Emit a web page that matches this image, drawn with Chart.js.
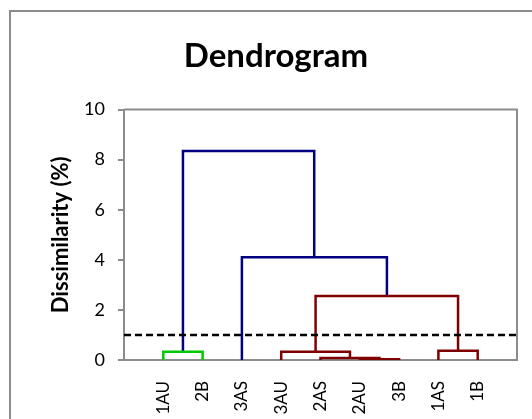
<!DOCTYPE html>
<html lang="en">
  <head>
    <meta charset="UTF-8" />
    <title>Dendrogram</title>
    <style>
      body {
          margin: 0;
          background-color: white;
          overflow: hidden;
      }
      #frame {
          position: absolute;
          left: 9px;
          top: 10px;
          width: 600px;
          height: 500px;
          border: 2px solid #8c8c8c;
      }
      #wrap {
          position: absolute;
          left: 0;
          top: 0;
          width: 532px;
          height: 419px;
      }
    </style>
    <script src="https://cdn.jsdelivr.net/npm/chart.js@4.4.0/dist/chart.umd.min.js"></script>
  </head>
  <body>
    <div id="frame"></div>
    <div id="wrap"><canvas id="dendroChart"></canvas></div>
    <script>
      // leaves in plot order (x = 1..9)
      var leafNames = ["1AU", "2B", "3AS", "3AU", "2AS", "2AU", "3B", "1AS", "1B"];

      // one entry per merge: left/right x, bottoms of the two legs, merge height (%)
      var linkLeftX = [1, 6, 5, 4, 8, 4.875, 3, 1.5];
      var linkRightX = [2, 7, 6.5, 5.75, 9, 8.5, 6.69, 4.84];
      var linkLeftBase = [0, 0, 0, 0, 0, 0.33, 0, 0.33];
      var linkRightBase = [0, 0, 0.03, 0.08, 0, 0.37, 2.56, 4.1];
      var linkHeight = [0.33, 0.03, 0.08, 0.33, 0.37, 2.56, 4.1, 8.35];
      var linkColors = ["#00c800", "#7f0000", "#7f0000", "#7f0000", "#7f0000", "#7f0000", "#000080", "#000080"];

      // truncation line
      var cutLevel = 1;

      var yTicks = [0, 2, 4, 6, 8, 10];

      var datasets = [
        {
          label: "cut",
          data: [{ x: 0, y: cutLevel }, { x: 10, y: cutLevel }],
          borderColor: "#000000",
          borderWidth: 2.5,
          borderDash: [7, 4],
          showLine: true,
          pointRadius: 0,
        },
      ];
      for (var i = 0; i < linkHeight.length; i++) {
        datasets.push({
          label: "link" + i,
          data: [
            { x: linkLeftX[i], y: linkLeftBase[i] },
            { x: linkLeftX[i], y: linkHeight[i] },
            { x: linkRightX[i], y: linkHeight[i] },
            { x: linkRightX[i], y: linkRightBase[i] },
          ],
          borderColor: linkColors[i],
          borderWidth: 2.5,
          borderJoinStyle: "miter",
          showLine: true,
          pointRadius: 0,
        });
      }

      // gray frame on the top and right side of the plot area
      var plotFrame = {
        id: "plotFrame",
        beforeDatasetsDraw: (chart) => {
          const a = chart.chartArea;
          const ctx = chart.ctx;
          ctx.save();
          ctx.strokeStyle = "#8c8c8c";
          ctx.lineWidth = 2;
          ctx.beginPath();
          ctx.moveTo(a.left, a.top);
          ctx.lineTo(a.right, a.top);
          ctx.lineTo(a.right, a.bottom);
          ctx.stroke();
          ctx.restore();
        },
      };

      var dendroChart = new Chart(document.getElementById("dendroChart"), {
        type: "scatter",
        data: { datasets: datasets },
        plugins: [plotFrame],
        options: {
          responsive: true,
          maintainAspectRatio: false,
          animation: false,
          layout: { padding: { left: 35, right: 15, top: 0, bottom: 0 } },
          plugins: {
            legend: { display: false },
            tooltip: { enabled: false },
            title: {
              display: true,
              text: "Dendrogram",
              color: "#000",
              font: { family: "Lato", size: 33, weight: "bold" },
              padding: { top: 37, bottom: 33 },
            },
          },
          scales: {
            x: {
              type: "linear",
              min: 0,
              max: 10,
              afterBuildTicks: (scale) => {
                scale.ticks = leafNames.map((n, i) => ({ value: i + 1 }));
              },
              afterFit: (scale) => {
                scale.height = 59;
              },
              grid: { display: false, drawTicks: false },
              border: { display: true, color: "#8c8c8c", width: 2 },
              ticks: {
                autoSkip: false,
                minRotation: 90,
                maxRotation: 90,
                padding: 21,
                color: "#000",
                font: { family: "Lato", size: 17 },
                callback: (value) => leafNames[value - 1],
              },
            },
            y: {
              min: 0,
              max: 10,
              afterBuildTicks: (scale) => {
                scale.ticks = yTicks.map((v) => ({ value: v }));
              },
              afterFit: (scale) => {
                scale.width = 89;
              },
              grid: {
                drawOnChartArea: false,
                drawTicks: true,
                tickLength: 6,
                color: "#8c8c8c",
                lineWidth: 2,
              },
              border: { display: true, color: "#8c8c8c", width: 2 },
              ticks: {
                padding: 13,
                color: "#000",
                font: { family: "Lato", size: 18 },
              },
              title: {
                display: true,
                text: "Dissimilarity (%)",
                color: "#000",
                font: { family: "Lato", size: 22, weight: "bold" },
                padding: { top: 13, bottom: 0 },
              },
            },
          },
        },
      });
    </script>
  </body>
</html>
